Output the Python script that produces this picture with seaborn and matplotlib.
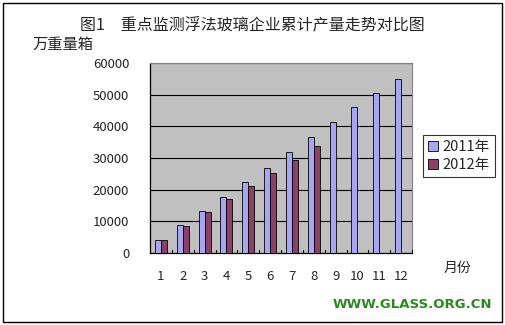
import matplotlib
matplotlib.use("Agg")
import matplotlib.pyplot as plt
import seaborn as sns
import pandas as pd
from matplotlib.patches import Rectangle

months = [str(i) for i in range(1, 13)]
y2011 = [4200, 8800, 13200, 17600, 22300, 27000, 31900, 36500, 41400, 46000, 50600, 55000]
y2012 = [4200, 8400, 12800, 17000, 21100, 25200, 29400, 33800]
series = ["2011年", "2012年"]
yticks = [0, 10000, 20000, 30000, 40000, 50000, 60000]

rows = []
for m, v in zip(months, y2011):
    rows.append((m, series[0], v))
for m, v in zip(months, y2012):
    rows.append((m, series[1], v))
df = pd.DataFrame(rows, columns=["month", "series", "value"])

sns.set_theme(style="white")
plt.rcParams['font.family'] = ['Noto Sans CJK SC', 'DejaVu Sans']

fig = plt.figure(figsize=(5.05, 3.25), dpi=100)
fig.patch.set_facecolor("white")
ax = fig.add_axes([0.297, 0.2215, 0.519, 0.5845])
ax.set_facecolor("#C0C0C0")

sns.barplot(data=df, x="month", y="value", hue="series", order=months,
            hue_order=series, palette=["#9999FF", "#993366"], width=0.55,
            edgecolor="black", linewidth=0.6, ax=ax, zorder=3)

ax.set_ylim(0, 60000)
ax.set_xlim(-0.5, 11.5)
ax.set_yticks(yticks)
ax.set_yticklabels([str(t) for t in yticks], fontsize=9.5)
ax.yaxis.grid(True, color="black", linewidth=0.8, zorder=0)
ax.set_axisbelow(True)
ax.set_xlabel("")
ax.set_ylabel("")
ax.tick_params(axis="x", length=0, labelsize=9.5, pad=12)
ax.tick_params(axis="y", left=False, length=0, labelsize=9.5, pad=15)
for s in ["left", "bottom"]:
    ax.spines[s].set_color("black")
    ax.spines[s].set_linewidth(0.9)
for s in ["top", "right"]:
    ax.spines[s].set_color("#808080")
    ax.spines[s].set_linewidth(0.8)
# category separator ticks
for i in range(13):
    ax.plot([i - 0.5, i - 0.5], [0, 0.015], transform=ax.get_xaxis_transform(),
            color="black", lw=0.8, clip_on=False, zorder=4)

leg = ax.legend(loc="upper left", bbox_to_anchor=(1.04, 0.62), frameon=True,
                fontsize=10.5, handlelength=0.7, handleheight=0.7, handletextpad=0.3,
                borderpad=0.35, labelspacing=0.25, fancybox=False, borderaxespad=0)
leg.get_frame().set_edgecolor("black")
leg.get_frame().set_linewidth(0.8)

fig.text(0.5, 1 - 25 / 325, "图1　重点监测浮法玻璃企业累计产量走势对比图", ha="center", va="center", fontsize=11.5)
fig.text(32 / 505, 1 - 44 / 325, "万重量箱", ha="left", va="center", fontsize=11)
fig.text(457 / 505, 1 - 268 / 325, "月份", ha="center", va="center", fontsize=10)
fig.text(492 / 505, 1 - 305 / 325, "WWW.GLASS.ORG.CN", ha="right", va="center",
         fontsize=9.5, fontweight="heavy", color="#2A8A1E", family="DejaVu Sans")

fig.patches.append(Rectangle((3 / 505, 3 / 325), 499 / 505, 319 / 325, transform=fig.transFigure,
                             fill=False, edgecolor="black", linewidth=1.0))

fig.savefig("out.png", dpi=100)
